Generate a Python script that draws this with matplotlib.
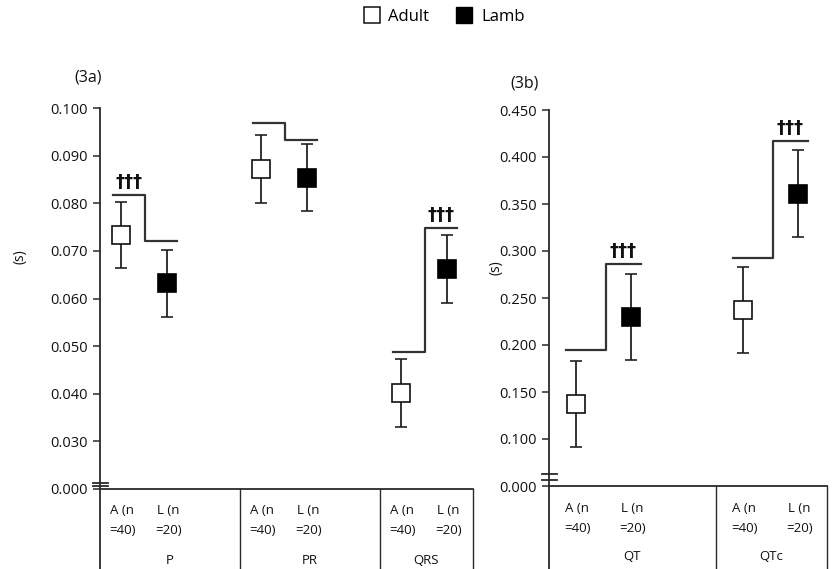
import matplotlib
matplotlib.use("Agg")
import matplotlib.pyplot as plt
from matplotlib.lines import Line2D
import matplotlib.transforms as mtransforms

plt.rcParams['font.family'] = ['Open Sans', 'DejaVu Sans']

# ---------------- data ----------------
left_groups = ['P', 'PR', 'QRS']
left_adult_mean = [0.0733, 0.0872, 0.0402]
left_adult_sd = [0.0070, 0.0071, 0.0071]
left_lamb_mean = [0.0632, 0.0854, 0.0662]
left_lamb_sd = [0.0070, 0.0070, 0.0071]
left_adult_bracket = [0.0817, 0.0968, 0.0487]
left_lamb_bracket = [0.0720, 0.0933, 0.0748]
left_sig = ['†††', '', '†††']
left_ticks = [0.02, 0.03, 0.04, 0.05, 0.06, 0.07, 0.08, 0.09, 0.10]
left_ticklabels = ['0.000', '0.030', '0.040', '0.050', '0.060', '0.070', '0.080', '0.090', '0.100']

right_groups = ['QT', 'QTc']
right_adult_mean = [0.137, 0.237]
right_adult_sd = [0.046, 0.046]
right_lamb_mean = [0.230, 0.361]
right_lamb_sd = [0.046, 0.046]
right_adult_bracket = [0.195, 0.293]
right_lamb_bracket = [0.286, 0.417]
right_sig = ['†††', '†††']
right_ticks = [0.05, 0.10, 0.15, 0.20, 0.25, 0.30, 0.35, 0.40, 0.45]
right_ticklabels = ['0.000', '0.100', '0.150', '0.200', '0.250', '0.300', '0.350', '0.400', '0.450']

adult_label = 'A (n\n=40)'
lamb_label = 'L (n\n=20)'

# ---------------- layout ----------------
W, H = 833, 569
fig = plt.figure(figsize=(W / 100, H / 100), dpi=100)


def fc(x0, y0, x1, y1):
    return [x0 / W, 1 - y1 / H, (x1 - x0) / W, (y1 - y0) / H]


LINE = '#2a2a2a'
TXT = '#111111'


def panel(ax, groups, am, asd, lm, lsd, ab, lb, sig, ticks, tlabels, xmax,
          ypix_top, ypix_bot, axw_px, offs, breaks):
    oa, ol, b0, b1, b2 = offs
    ax.set_xlim(0, xmax)
    ax.set_ylim(ticks[0], ticks[-1])
    for s in ['top', 'right']:
        ax.spines[s].set_visible(False)
    for s in ['left', 'bottom']:
        ax.spines[s].set_color(LINE)
        ax.spines[s].set_linewidth(1.3)
    ax.set_xticks([])
    ax.set_yticks(ticks)
    ax.set_yticklabels(tlabels)
    ax.tick_params(axis='y', direction='out', length=5, width=1.1, colors=LINE,
                   labelsize=10.5, labelcolor=TXT, pad=4)
    xs = range(len(groups))
    xa = [i + oa for i in xs]
    xl = [i + ol for i in xs]
    ax.errorbar(xa, am, yerr=asd, fmt='s', ms=12.5, mfc='white', mec='#111111',
                mew=1.2, ecolor='#222222', elinewidth=1.3, capsize=4.5,
                capthick=1.3, zorder=3)
    ax.errorbar(xl, lm, yerr=lsd, fmt='s', ms=12.5, mfc='black', mec='black',
                mew=1.2, ecolor='#222222', elinewidth=1.3, capsize=4.5,
                capthick=1.3, zorder=3)
    for i in xs:
        ax.plot([i + b0, i + b1, i + b1, i + b2], [ab[i], ab[i], lb[i], lb[i]],
                color='#333333', lw=1.6, clip_on=False)
        if sig[i]:
            if ab[i] >= lb[i]:
                cx, cy = i + (b0 + b1) / 2, ab[i]
            else:
                cx, cy = i + (b1 + b2) / 2, lb[i]
            ax.annotate(sig[i], (cx, cy), xytext=(0, 3), textcoords='offset points',
                        ha='center', va='bottom', fontsize=13, fontweight='bold',
                        family=['DejaVu Sans'], color=TXT)
    # table area below the axis
    ext = (H - ypix_bot) / (ypix_bot - ypix_top)
    trans = mtransforms.blended_transform_factory(ax.transData, ax.transAxes)
    ax.plot([0, 0], [0, -ext], transform=ax.transAxes, color=LINE, lw=1.3, clip_on=False)
    for i in range(1, len(groups)):
        ax.plot([i, i], [0, -ext], transform=trans, color=LINE, lw=1.0, clip_on=False)
    ax.plot([1, 1], [0, -ext], transform=ax.transAxes, color=LINE, lw=1.0, clip_on=False)
    px = 1.0 / (ypix_bot - ypix_top)
    for i, g in enumerate(groups):
        for xpos, lab in ((i + oa + 0.01, adult_label), (i + ol + 0.01, lamb_label)):
            l1, l2 = lab.split('\n')
            ax.text(xpos, -22 * px, l1, transform=trans, ha='center', va='center',
                    fontsize=9.5, color=TXT)
            ax.text(xpos, -42 * px, l2, transform=trans, ha='center', va='center',
                    fontsize=9.5, color=TXT)
        gx = min(i + 0.5, (i + xmax) / 2)
        ax.text(gx, -71 * px, g, transform=trans, ha='center', va='center',
                fontsize=9.5, color=TXT)
    # axis break marks
    hw = 7.5 / axw_px * xmax
    for dy in breaks:
        ax.plot([-hw, hw], [dy * px, dy * px], transform=trans, color=LINE,
                lw=1.3, clip_on=False)


axL = fig.add_axes(fc(100, 108, 473, 489))
panel(axL, left_groups, left_adult_mean, left_adult_sd, left_lamb_mean, left_lamb_sd,
      left_adult_bracket, left_lamb_bracket, left_sig, left_ticks, left_ticklabels,
      373 / 140, 108, 489, 373, (0.15, 0.48, 0.09, 0.32, 0.55), (3, 6.5))
fig.text(88 / W, 1 - 77 / H, '(3a)', ha='center', va='center', fontsize=11.5, color=TXT)
fig.text(20 / W, 1 - 257 / H, '(s)', rotation=90, ha='center', va='center',
         fontsize=10, color=TXT)

axR = fig.add_axes(fc(549, 110, 827, 486))
panel(axR, right_groups, right_adult_mean, right_adult_sd, right_lamb_mean, right_lamb_sd,
      right_adult_bracket, right_lamb_bracket, right_sig, right_ticks, right_ticklabels,
      278 / 167, 110, 486, 278, (0.16, 0.49, 0.10, 0.34, 0.55), (6, 12))
fig.text(525 / W, 1 - 84 / H, '(3b)', ha='center', va='center', fontsize=11.5, color=TXT)
fig.text(496 / W, 1 - 268 / H, '(s)', rotation=90, ha='center', va='center',
         fontsize=10, color=TXT)

handles = [Line2D([], [], marker='s', ls='none', ms=11, mfc='white', mec='#111111', mew=1.1),
           Line2D([], [], marker='s', ls='none', ms=11, mfc='black', mec='black')]
fig.legend(handles, ['Adult', 'Lamb'], loc='center', bbox_to_anchor=(444 / W, 1 - 17 / H),
           ncol=2, frameon=False, fontsize=12, handletextpad=0.5, columnspacing=1.6,
           handlelength=1.0)

fig.savefig('out.png', dpi=100)
